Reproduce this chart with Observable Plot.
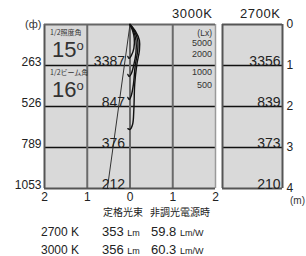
<!DOCTYPE html>
<html><head><meta charset="utf-8">
<script src="https://cdn.jsdelivr.net/npm/d3@7"></script>
<script src="https://cdn.jsdelivr.net/npm/@observablehq/plot@0.6"></script>
<style>
body{margin:0;background:#fff;}
#wrap{position:relative;width:306px;height:256px;overflow:hidden;font-family:"Liberation Sans",Arial,sans-serif;color:#222;}
#wrap svg{position:absolute;top:0;}
.t{position:absolute;white-space:nowrap;line-height:1;}
.jp{font-family:"Noto Sans CJK JP",sans-serif;}
.r{text-align:right;}
.u{font-size:9px;}
</style></head><body><div id="wrap">
<div class="t" style="left:172px;top:7px;font-size:13px;letter-spacing:0.6px;">3000K</div>
<div class="t" style="left:240px;top:7px;font-size:13px;letter-spacing:0.6px;">2700K</div>
<div class="t jp" style="left:50px;top:29px;font-size:7px;color:#333;">1/2照度角</div>
<div class="t" style="left:52px;top:39px;font-size:22px;color:#333;">15<span style="font-size:13px;vertical-align:top;">o</span></div>
<div class="t jp" style="left:50px;top:69px;font-size:7px;color:#333;">1/2ビーム角</div>
<div class="t" style="left:52px;top:79px;font-size:22px;color:#333;">16<span style="font-size:13px;vertical-align:top;">o</span></div>
<div class="t r" style="right:94px;top:29px;font-size:8.5px;color:#333;">(Lx)</div>
<div class="t r" style="right:94px;top:39px;font-size:9px;color:#333;">5000</div>
<div class="t r" style="right:94px;top:50px;font-size:9px;color:#333;">2000</div>
<div class="t r" style="right:94px;top:68px;font-size:9px;color:#333;">1000</div>
<div class="t r" style="right:94px;top:81px;font-size:9px;color:#333;">500</div>
<div class="t" style="left:290px;top:196px;font-size:10px;color:#333;">(m)</div>
<div class="t jp" style="left:103px;top:207px;font-size:10px;">定格光束</div>
<div class="t jp" style="left:150px;top:207px;font-size:10px;">非調光電源時</div>
<div class="t" style="left:41px;top:226px;font-size:12px;">2700 K</div>
<div class="t" style="left:102px;top:225px;font-size:13px;">353 <span class="u">Lm</span></div>
<div class="t" style="left:151px;top:225px;font-size:13px;">59.8 <span class="u">Lm/W</span></div>
<div class="t" style="left:41px;top:244px;font-size:12px;">3000 K</div>
<div class="t" style="left:102px;top:243px;font-size:13px;">356 <span class="u">Lm</span></div>
<div class="t" style="left:151px;top:243px;font-size:13px;">60.3 <span class="u">Lm/W</span></div>
</div>
<script>
const distances = [1, 2, 3, 4];
const diameters = [263, 526, 789, 1053];
const lux3000 = [3387, 847, 376, 212];
const lux2700 = [3356, 839, 373, 210];
const xTicks = [-2, -1, 0, 1, 2];
const yTicks = [0, 1, 2, 3, 4];
const beamLine = [[0, 0], [-0.53, 4]];
const iso5000 = [[0,0],[0.06,0.15],[0.1,0.34],[0.09,0.58],[0.03,0.76],[-0.02,0.83],[-0.05,0.78]];
const iso2000 = [[0,0],[0.08,0.15],[0.14,0.39],[0.14,0.68],[0.09,0.98],[0.03,1.2],[-0.02,1.27],[-0.05,1.22]];
const iso1000 = [[0,0],[0.1,0.15],[0.18,0.39],[0.18,0.63],[0.12,1.02],[0.08,1.46],[0.03,1.73],[-0.02,1.83],[-0.05,1.78]];
const iso500  = [[0,0],[0.12,0.15],[0.22,0.39],[0.22,0.63],[0.16,0.98],[0.11,1.46],[0.09,2.07],[0.06,2.44],[0,2.56],[-0.05,2.54]];

const isoData = [["5000", iso5000], ["2000", iso2000], ["1000", iso1000], ["500", iso500]]
  .flatMap(([level, pts]) => pts.map(([x, y]) => ({level, x, y})));
const beamData = beamLine.map(([x, y]) => ({x, y}));
const font = "'Liberation Sans', Arial, sans-serif";

const main = Plot.plot({
  width: 306, height: 256,
  marginLeft: 44, marginRight: 91, marginTop: 24, marginBottom: 68,
  x: {domain: [-2, 2]},
  y: {domain: [0, 4], reverse: true, axis: null},
  style: {fontFamily: font, background: "white", color: "#222"},
  marks: [
    Plot.frame({fill: "#d9d9d9", stroke: null}),
    Plot.ruleY(distances.slice(0, 3), {stroke: "#111", strokeWidth: 1.5}),
    Plot.ruleX([-1, 0, 1], {stroke: "#6a6a6a", strokeWidth: 2}),
    Plot.ruleX([2], {stroke: "#9a9a9a", strokeWidth: 1.5}),
    Plot.ruleX([-2], {stroke: "#555", strokeWidth: 2}),
    Plot.ruleY([0], {stroke: "#666", strokeWidth: 2}),
    Plot.ruleY([4], {stroke: "#555", strokeWidth: 2}),
    Plot.line(beamData, {x: "x", y: "y", stroke: "#333", strokeWidth: 1}),
    Plot.line(isoData, {x: "x", y: "y", z: "level", stroke: "#111", strokeWidth: 1.4, curve: "catmull-rom"}),
    Plot.text(distances, {x: () => 0, y: d => d, text: (d, i) => String(lux3000[i]), textAnchor: "end", lineAnchor: "bottom", dx: -5, dy: 0, fontSize: 14, fill: "#222"}),
    Plot.text(distances, {x: () => -2, y: d => d, text: (d, i) => String(diameters[i]), textAnchor: "end", lineAnchor: "bottom", dx: -3, dy: 0, fontSize: 12, fill: "#222"}),
    Plot.text(["(ф)"], {x: () => -2, y: () => 0, text: d => d, textAnchor: "end", lineAnchor: "middle", dx: -3, fontSize: 11, fill: "#333"}),
    Plot.axisX({ticks: xTicks, tickSize: 0, tickPadding: 4, tickFormat: d => Math.abs(d), fontSize: 12, label: null})
  ]
});
main.style.left = "0px";

const right = Plot.plot({
  width: 84, height: 256,
  marginLeft: 0, marginRight: 24, marginTop: 24, marginBottom: 68,
  x: {domain: [0, 1], axis: null},
  y: {domain: [0, 4], reverse: true},
  style: {fontFamily: font, background: "transparent", color: "#222", overflow: "visible"},
  marks: [
    Plot.frame({fill: "#d9d9d9", stroke: null}),
    Plot.ruleY(distances.slice(0, 3), {stroke: "#111", strokeWidth: 1.5}),
    Plot.ruleX([0, 1], {stroke: "#555", strokeWidth: 2}),
    Plot.ruleY([0, 4], {stroke: "#555", strokeWidth: 2}),
    Plot.text(distances, {x: () => 1, y: d => d, text: (d, i) => String(lux2700[i]), textAnchor: "end", lineAnchor: "bottom", dx: -2, fontSize: 14, fill: "#222"}),
    Plot.axisY({ticks: yTicks, anchor: "right", tickSize: 0, tickPadding: 4, tickFormat: d => String(d), fontSize: 12, label: null})
  ]
});
right.style.left = "222px";

const wrap = document.getElementById("wrap");
wrap.prepend(right);
wrap.prepend(main);
</script>
</body></html>
